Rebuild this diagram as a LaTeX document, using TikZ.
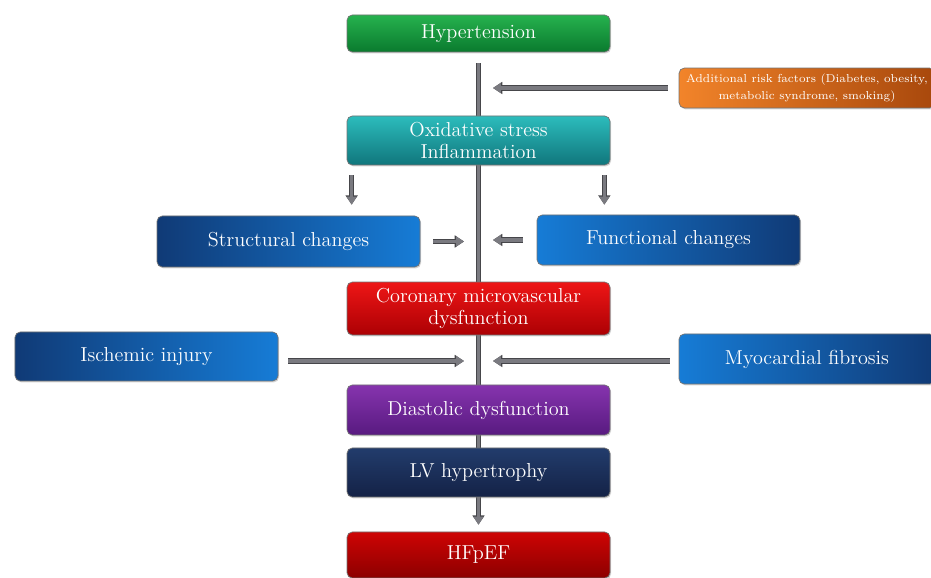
\documentclass[tikz,border=0pt]{standalone}
\usepackage{xcolor}
\usepackage{tikz}
\usetikzlibrary{positioning,calc,arrows.meta,shadows,backgrounds}

\definecolor{greenL}{RGB}{38,178,78}
\definecolor{greenD}{RGB}{10,122,46}
\definecolor{orangeL}{RGB}{242,132,42}
\definecolor{orangeD}{RGB}{168,72,12}
\definecolor{tealL}{RGB}{44,188,188}
\definecolor{tealD}{RGB}{16,118,124}
\definecolor{blueL}{RGB}{22,124,214}
\definecolor{blueD}{RGB}{16,58,118}
\definecolor{redL}{RGB}{238,22,22}
\definecolor{redD}{RGB}{172,0,4}
\definecolor{purpleL}{RGB}{134,52,174}
\definecolor{purpleD}{RGB}{88,26,128}
\definecolor{navyL}{RGB}{34,60,108}
\definecolor{navyD}{RGB}{20,34,70}
\definecolor{darkredL}{RGB}{206,4,4}
\definecolor{darkredD}{RGB}{140,0,0}
\definecolor{arrfill}{RGB}{122,122,128}
\definecolor{arrline}{RGB}{70,70,74}

\begin{document}
\begin{tikzpicture}[
    box/.style={draw=black!55, line width=0.4pt, rounded corners=3pt, minimum width=5.26cm, minimum height=0.98cm, align=center, text=white, font=\fontsize{11.5}{13}\selectfont, drop shadow={opacity=0.35, shadow xshift=0.6pt, shadow yshift=-0.8pt}},
    arr/.style={draw=arrfill, line width=2pt, -{Triangle[length=4.5pt, width=5.5pt]}, preaction={draw=arrline, line width=3pt, -{Triangle[length=5.3pt, width=6.7pt]}}},
    trunk/.style={arr, line width=2.2pt, preaction={line width=3.2pt}}
]
    \useasboundingbox (0,0) rectangle (18.62,-11.56);

    % Main chain
    \node [box, minimum height=0.74cm, top color=greenL, bottom color=greenD] (hyper) at (9.57,-0.67) {Hypertension};
    \node [box, top color=tealL, bottom color=tealD] (oxid) at (9.57,-2.81) {Oxidative stress\\Inflammation};
    \node [box, top color=redL, bottom color=redD] (coron) at (9.57,-6.17) {Coronary microvascular\\dysfunction};
    \node [box, minimum height=1.0cm, top color=purpleL, bottom color=purpleD] (diast) at (9.57,-8.20) {Diastolic dysfunction};
    \node [box, top color=navyL, bottom color=navyD] (lv) at (9.57,-9.45) {LV hypertrophy};
    \node [box, minimum height=0.92cm, top color=darkredL, bottom color=darkredD] (hfpef) at (9.57,-11.10) {HFpEF};

    % Side boxes
    \node [box, minimum width=5.12cm, minimum height=0.72cm, inner xsep=2pt, left color=orangeL, right color=orangeD, font=\fontsize{6.6}{9.4}\selectfont] (risk) at (16.14,-1.76) {Additional risk factors (Diabetes, obesity,\\metabolic syndrome, smoking)};
    \node [box, minimum height=1.02cm, left color=blueD, right color=blueL] (struct) at (5.77,-4.83) {Structural changes};
    \node [box, minimum height=1.0cm, left color=blueL, right color=blueD] (func) at (13.37,-4.80) {Functional changes};
    \node [box, left color=blueD, right color=blueL] (isch) at (2.93,-7.13) {Ischemic injury};
    \node [box, minimum width=5.12cm, minimum height=1.0cm, left color=blueL, right color=blueD] (myo) at (16.14,-7.18) {Myocardial fibrosis};

    % Central axis
    \coordinate (axisL) at (9.28,0);
    \coordinate (axisR) at (9.86,0);
    \begin{scope}[on background layer]
        \draw [trunk] ([yshift=-0.22cm]hyper.south) -- ([yshift=0.14cm]hfpef.north);
    \end{scope}

    % Inputs into the axis
    \draw [arr] ([xshift=-0.22cm]risk.west) -- (risk.west -| axisR);
    \draw [arr] ([xshift=0.26cm]struct.east) -- (struct.east -| axisL);
    \draw [arr] ([xshift=-0.28cm]func.west) -- (func.west -| axisR);
    \draw [arr] ([xshift=0.2cm,yshift=-0.09cm]isch.east) -- ([yshift=-0.09cm]isch.east -| axisL);
    \draw [arr] ([xshift=-0.18cm,yshift=-0.04cm]myo.west) -- ([yshift=-0.04cm]myo.west -| axisR);

    % Oxidative stress branches
    \coordinate (oxL) at ([xshift=0.1cm]oxid.south west);
    \coordinate (oxR) at ([xshift=-0.12cm]oxid.south east);
    \draw [arr] ([yshift=-0.2cm]oxL) -- ([yshift=0.22cm]struct.north -| oxL);
    \draw [arr] ([yshift=-0.2cm]oxR) -- ([yshift=0.2cm]func.north -| oxR);
\end{tikzpicture}
\end{document}
